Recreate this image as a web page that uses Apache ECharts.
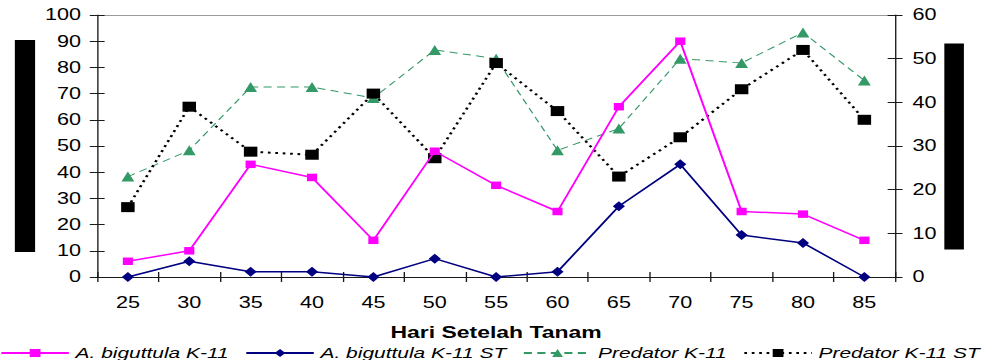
<!DOCTYPE html>
<html>
<head>
<meta charset="utf-8">
<script src="https://cdn.jsdelivr.net/npm/echarts@6/dist/echarts.min.js"></script>
<style>
  html, body { margin: 0; padding: 0; background: #fff; overflow: hidden; }
  /* the chart is laid out narrow and widened horizontally */
  #chart { width: 737px; height: 360px; transform: scaleX(1.35); transform-origin: 0 0; }
</style>
</head>
<body>
<div id="chart"></div>
<script>
// Days after planting (x categories)
const days = ['25', '30', '35', '40', '45', '50', '55', '60', '65', '70', '75', '80', '85'];

// A. biguttula populations (left axis)
const biguttula   = [6, 10, 43, 38, 14, 48, 35, 25, 65, 90, 25, 24, 14];
const biguttulaST = [0, 6, 2, 2, 0, 7, 0, 2, 27, 43, 16, 13, 0];

// Predator populations (right axis)
const predator   = [23, 29, 43.5, 43.5, 41, 52, 50, 29, 34, 50, 49, 56, 45];
const predatorST = [16, 39, 28.7, 28, 42, 27.2, 49, 38, 23, 32, 43, 52, 36];

// Value axis ranges: [min, max, interval]
const leftRange  = [0, 100, 10];
const rightRange = [0, 60, 10];

const seriesNames = ['A. biguttula K-11', 'A. biguttula K-11 ST', 'Predator K-11', 'Predator K-11 ST'];
const xTitle = 'Hari Setelah Tanam';

const FONT = 'Liberation Sans, Arial, sans-serif';
const AXIS_COLOR = '#1a1a1a';

const chart = echarts.init(document.getElementById('chart'), null, { renderer: 'svg' });

function valueAxis(range, position, opts) {
  return Object.assign({
    type: 'value',
    position: position,
    min: range[0],
    max: range[1],
    interval: range[2],
    splitLine: { show: false },
    axisLine: { show: true, lineStyle: { color: AXIS_COLOR, width: 1 } },
    axisTick: { show: true, inside: false, length: 5.5, lineStyle: { color: AXIS_COLOR } },
    axisLabel: {
      show: true, color: '#000', fontFamily: FONT, fontSize: 16,
      margin: position === 'left' ? 12 : 13
    }
  }, opts || {});
}

function innerTickAxis(range, position) {
  return valueAxis(range, position, {
    axisLine: { show: false },
    axisLabel: { show: false },
    axisTick: { show: true, inside: true, length: 5.5, lineStyle: { color: AXIS_COLOR } }
  });
}

const option = {
  animation: false,
  backgroundColor: '#fff',
  grid: {
    left: 72, right: 74, top: 15, bottom: 83,
    containLabel: false,
    outerBoundsMode: 'none'
  },
  legend: {
    data: seriesNames,
    left: 0,
    top: 345,
    width: 737,
    padding: 0,
    itemWidth: 50,
    itemHeight: 10,
    itemGap: 12,
    textStyle: { color: '#000', fontFamily: FONT, fontSize: 15.5, fontStyle: 'italic' }
  },
  xAxis: [
    {
      type: 'category',
      position: 'bottom',
      data: days,
      boundaryGap: true,
      name: xTitle,
      nameLocation: 'middle',
      nameGap: 47,
      nameTextStyle: { color: '#000', fontFamily: FONT, fontSize: 17, fontWeight: 'bold' },
      axisLine: { show: true, onZero: false, lineStyle: { color: AXIS_COLOR, width: 1 } },
      axisTick: { show: true, inside: false, length: 5, lineStyle: { color: AXIS_COLOR } },
      axisLabel: { color: '#000', fontFamily: FONT, fontSize: 16, margin: 18 },
      splitLine: { show: false }
    },
    {
      type: 'category',
      position: 'bottom',
      data: days,
      boundaryGap: true,
      axisLine: { show: false },
      axisTick: { show: true, inside: true, length: 5, lineStyle: { color: AXIS_COLOR } },
      axisLabel: { show: false },
      splitLine: { show: false }
    },
    {
      // plot-area top border
      type: 'category',
      position: 'top',
      data: days,
      axisLine: { show: true, onZero: false, lineStyle: { color: '#9a9a9a', width: 1 } },
      axisTick: { show: false },
      axisLabel: { show: false },
      splitLine: { show: false }
    }
  ],
  yAxis: [
    valueAxis(leftRange, 'left'),
    valueAxis(rightRange, 'right'),
    innerTickAxis(leftRange, 'left'),
    innerTickAxis(rightRange, 'right')
  ],
  graphic: [
    // solid black blocks where the vertical axis titles sit
    { type: 'rect', left: 11, top: 40, shape: { width: 15, height: 212 }, style: { fill: '#000' } },
    { type: 'rect', left: 699.5, top: 43.5, shape: { width: 14.5, height: 206 }, style: { fill: '#000' } }
  ],
  series: [
    {
      name: seriesNames[0], type: 'line', yAxisIndex: 0, data: biguttula,
      symbol: 'rect', symbolSize: [7.5, 7.5],
      itemStyle: { color: '#ff00ff' },
      lineStyle: { color: '#ff00ff', width: 1.5 },
      z: 4
    },
    {
      name: seriesNames[1], type: 'line', yAxisIndex: 0, data: biguttulaST,
      symbol: 'diamond', symbolSize: [9, 10],
      itemStyle: { color: '#000080' },
      lineStyle: { color: '#000080', width: 1.5 },
      z: 4
    },
    {
      name: seriesNames[2], type: 'line', yAxisIndex: 1, data: predator,
      symbol: 'triangle', symbolSize: [9.5, 10],
      itemStyle: { color: '#339966' },
      lineStyle: { color: '#339966', width: 1, type: [6, 4] },
      z: 3
    },
    {
      name: seriesNames[3], type: 'line', yAxisIndex: 1, data: predatorST,
      symbol: 'rect', symbolSize: [10, 10],
      itemStyle: { color: '#000' },
      lineStyle: { color: '#000', width: 2, type: [2, 3.5] },
      z: 3
    }
  ]
};

chart.setOption(option);
</script>
</body>
</html>
